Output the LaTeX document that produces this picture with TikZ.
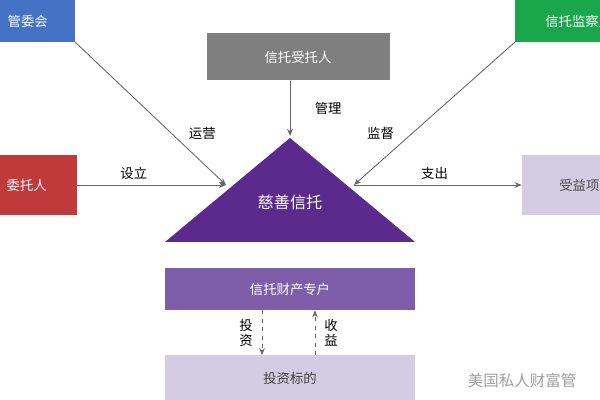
\documentclass[tikz,border=0pt]{standalone}
\usepackage{fontspec}
\setmainfont{Noto Sans CJK SC}
\usetikzlibrary{arrows.meta,positioning}
\definecolor{boxblue}{HTML}{4472C4}
\definecolor{boxgreen}{HTML}{1AA64A}
\definecolor{boxgray}{HTML}{7F7F7F}
\definecolor{boxred}{HTML}{C0393B}
\definecolor{trupurple}{HTML}{5B2A8C}
\definecolor{acctpurple}{HTML}{7E5EA8}
\definecolor{lightlav}{HTML}{D3CDE4}
\tikzset{
	box/.style={draw=none, inner sep=0pt, font=\fontsize{9.5}{11}\selectfont},
	conn/.style={draw=gray!80!black, line width=0.6pt, -{Stealth[length=5pt,width=4pt]}},
	dconn/.style={conn, dashed},
	lbl/.style={font=\fontsize{9.5}{11}\selectfont, text=black}
}
\begin{document}
\begin{tikzpicture}[x=0.025cm,y=-0.025cm]
	\useasboundingbox[fill=white] (0,0) rectangle (600,400);
	% outer parties
	\node[box, fill=boxblue, minimum width=100*0.025cm, minimum height=42*0.025cm] (board) at (25,21) {};
	\node[box, text=white, anchor=east] (boardtxt) at (48,21) {管委会};
	\node[box, fill=boxgreen, minimum width=100*0.025cm, minimum height=42*0.025cm] (supervisor) at (565,21) {};
	\node[box, text=white, anchor=west] (suptxt) at (545,21) {信托监察人};
	\node[box, fill=boxgray, text=white, minimum width=183*0.025cm, minimum height=47*0.025cm] (trustee) at (298,57) {信托受托人};
	\node[box, fill=boxred, minimum width=100*0.025cm, minimum height=60*0.025cm] (settlor) at (27,185) {};
	\node[box, text=white, anchor=east] (settlortxt) at (47,185) {委托人};
	\node[box, fill=lightlav, minimum width=100*0.025cm, minimum height=60*0.025cm] (beneficiary) at (572,185) {};
	\node[box, text=black!70, anchor=west] (benetxt) at (559,185) {受益项目};
	% charitable trust
	\fill[trupurple] (290,138) -- (415,242) -- (165,242) -- cycle;
	\node[box, text=white, font=\fontsize{11.5}{13}\selectfont] (trust) at (290,202) {慈善信托};
	\coordinate (trustL) at (226,185);
	\coordinate (trustR) at (354,185);
	\coordinate (trustTop) at (290,136);
	% account and investment
	\node[box, fill=acctpurple, text=white, minimum width=250*0.025cm, minimum height=42*0.025cm] (account) at (290,289) {信托财产专户};
	\node[box, fill=lightlav, text=black!75, minimum width=250*0.025cm, minimum height=45*0.025cm] (target) at (290,378) {投资标的};
	% connectors
	\draw[conn] (board.south east) -- (trustL) node[lbl, pos=0.72, above right=0pt and 0pt] {运营};
	\draw[conn] (supervisor.south west) -- (trustR) node[lbl, pos=0.72, above left=0pt and 0pt] {监督};
	\draw[conn] (trustee.south -| trustTop) -- (trustTop) node[lbl, midway, right=14pt] {管理};
	\draw[conn] (settlor.east) -- (trustL) node[lbl, pos=0.38, above] {设立};
	\draw[conn] (trustR) -- (beneficiary.west) node[lbl, pos=0.48, above] {支出};
	\draw[dconn] ([xshift=-28*0.025cm]account.south) -- ([xshift=-28*0.025cm]target.north) node[lbl, midway, left=3pt, align=center] {投\\资};
	\draw[dconn] ([xshift=25*0.025cm]target.north) -- ([xshift=25*0.025cm]account.south) node[lbl, midway, right=3pt, align=center] {收\\益};
	% watermark
	\node[lbl, text=gray!75, anchor=west, font=\fontsize{11}{13}\selectfont] (mark) at (463,381) {美国私人财富管};
\end{tikzpicture}
\end{document}
